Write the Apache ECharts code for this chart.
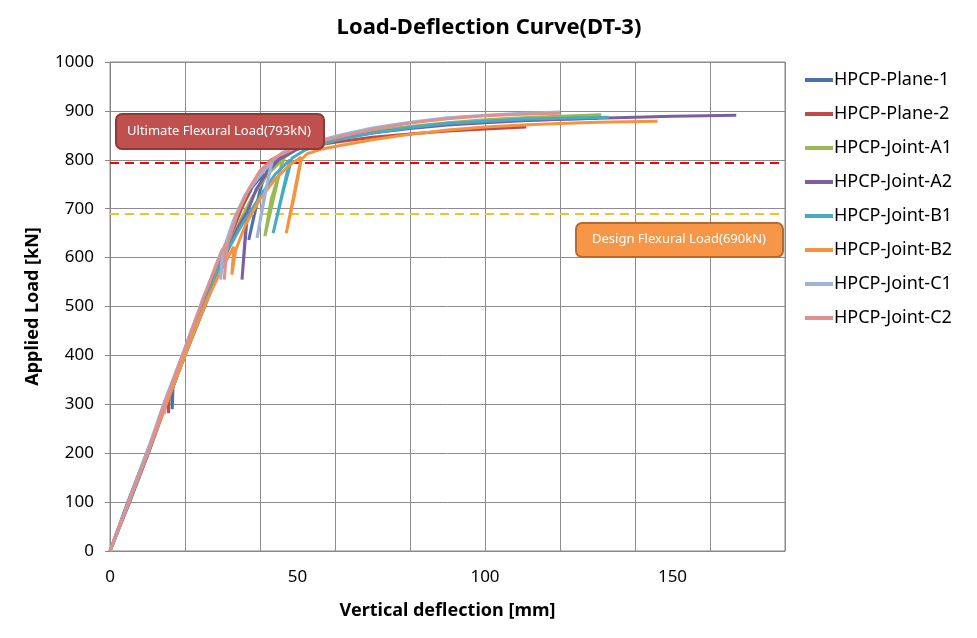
<!DOCTYPE html>
<html><head><meta charset="utf-8">
<script src="https://cdn.jsdelivr.net/npm/echarts@6/dist/echarts.min.js"></script>
<style>html,body{margin:0;padding:0;background:#fff}#c{width:977px;height:638px}</style>
</head><body><div id="c"></div>
<script>
// ---- data (deflection mm, load kN) ----
const seriesNames = ['HPCP-Plane-1','HPCP-Plane-2','HPCP-Joint-A1','HPCP-Joint-A2','HPCP-Joint-B1','HPCP-Joint-B2','HPCP-Joint-C1','HPCP-Joint-C2'];
const seriesColors = ['#4A71AC','#BE4B48','#98B954','#7D5FA0','#46AAC5','#F59440','#9DB3D8','#DE918F'];
const plane1 = [[0,0],[4,85],[8,165],[12,245],[15,305],[16.5,340],[16.6,290],[16.8,335],[20,405],[24,490],[28,570],[32,640],[35,700],[38,745],[41,772],[37,636],[38.5,690],[40.5,750],[42,780],[44,800],[47,818],[52,832],[60,845],[70,858],[80,867],[90,873],[100,878],[110,881],[120,883],[130,885]];
const plane2 = [[0,0],[5,100],[10,200],[14,285],[15.5,322],[15.6,282],[15.8,318],[20,410],[25,510],[30,605],[34,680],[37,735],[40,775],[43,800],[47,815],[52,826],[60,836],[70,846],[80,853],[90,859],[100,863],[111,867]];
const jointA1 = [[0,0],[5,98],[10,198],[14.5,295],[20,400],[25,500],[29,578],[32,628],[35,680],[38,725],[42,770],[46,800],[41.3,644],[43,720],[46.5,805],[50,822],[55,834],[60,844],[70,858],[80,868],[90,876],[100,882],[110,886],[120,889],[131,892]];
const jointA2 = [[0,0],[5,95],[10,195],[15,300],[20,400],[25,495],[30,590],[34,660],[36.5,692],[35.2,555],[36.7,695],[39,740],[42,775],[45,800],[50,822],[60,842],[70,855],[80,864],[90,871],[100,876],[110,880],[120,883],[135,886],[150,889],[167,891]];
const jointB1 = [[0,0],[5,98],[10,198],[14.5,292],[20,400],[25,500],[30,595],[35,665],[40,725],[44,770],[48,800],[43.5,650],[46,730],[48.5,803],[52,820],[60,840],[70,855],[80,866],[90,874],[100,879],[110,883],[120,885],[133,887]];
const jointB2 = [[0,0],[5,100],[10,200],[14,280],[18,360],[22,440],[26,515],[30,580],[33,622],[32.5,565],[33.5,615],[36,665],[40,720],[44,760],[48,790],[51,805],[47,650],[49,720],[51,800],[52.5,812],[56,821],[60,827],[70,841],[80,852],[90,861],[100,867],[110,871],[120,874],[130,877],[146,879]];
const jointC1 = [[0,0],[5,102],[10,205],[14.5,305],[20,415],[25,520],[29,600],[30,618],[29.5,555],[30.2,615],[33,678],[36,728],[40,768],[43,795],[39.2,640],[41,720],[43.3,798],[46,815],[50,828],[60,848],[70,865],[80,877],[90,886],[100,891],[110,895],[120,898]];
const jointC2 = [[0,0],[5,100],[10,200],[14,290],[15,312],[14.5,280],[15,310],[20,415],[25,520],[30,615],[31,630],[30.5,555],[31.2,625],[34,690],[37,740],[40,778],[44,805],[50,826],[60,845],[70,862],[80,875],[90,884],[100,890],[110,893],[120,895]];
const seriesData = [plane1, plane2, jointA1, jointA2, jointB1, jointB2, jointC1, jointC2];
const ultimateLoad = 793;
const designLoad = 690;
const xTickLabels = [0, 50, 100, 150];

const FONT = 'Noto Sans';
const chart = echarts.init(document.getElementById('c'));
const series = seriesNames.map((n, i) => ({
  name: n, type: 'line', data: seriesData[i], showSymbol: false, symbol: 'none',
  lineStyle: { width: 3, color: seriesColors[i] }, itemStyle: { color: seriesColors[i] },
  z: 3 + i
}));
series.push({
  name: 'ref', type: 'line', data: [], xAxisIndex: 0,
  markLine: {
    silent: true, symbol: 'none', label: { show: false },
    data: [
      { yAxis: ultimateLoad, lineStyle: { color: '#FF0000', type: [9, 6], width: 2 } },
      { yAxis: designLoad, lineStyle: { color: '#F2C12E', type: [9, 6], width: 2 } }
    ]
  },
  z: 20
});
chart.setOption({
  backgroundColor: '#fff',
  animation: false,
  title: { text: 'Load-Deflection Curve(DT-3)', left: 484, textAlign: 'center', top: 12,
    textStyle: { fontFamily: FONT, fontSize: 22, fontWeight: 'bold', color: '#000' } },
  legend: {
    data: seriesNames, orient: 'vertical', left: 800, top: 66, itemGap: 16,
    icon: 'rect', itemWidth: 28, itemHeight: 4,
    textStyle: { fontFamily: FONT, fontSize: 18, color: '#000', lineHeight: 18, padding: [0,0,0,-4] }
  },
  grid: { left: 110, right: 192, top: 62, bottom: 87, show: true, borderColor: '#888', borderWidth: 1 },
  xAxis: [{
    type: 'value', min: 0, max: 180, interval: 20,
    axisLine: { show: true, lineStyle: { color: '#888' } }, axisTick: { show: false },
    axisLabel: { show: false },
    splitLine: { show: true, lineStyle: { color: '#8c8c8c', width: 1 } },
    name: 'Vertical deflection [mm]', nameLocation: 'middle', nameGap: 51,
    nameTextStyle: { fontFamily: FONT, fontSize: 18, fontWeight: 'bold', color: '#000' }
  }, {
    type: 'value', min: 0, max: 180, interval: 50, position: 'bottom',
    axisLine: { show: false }, axisTick: { show: false }, splitLine: { show: false },
    axisLabel: { fontFamily: FONT, fontSize: 17, color: '#000', margin: 18,
      formatter: v => xTickLabels.indexOf(v) >= 0 ? String(v) : '' }
  }],
  yAxis: {
    type: 'value', min: 0, max: 1000, interval: 100,
    axisLine: { show: true, lineStyle: { color: '#888' } },
    axisTick: { show: true, length: 5, lineStyle: { color: '#888' } },
    axisLabel: { fontFamily: FONT, fontSize: 17, color: '#000', margin: 16, formatter: v => String(v) },
    splitLine: { show: true, lineStyle: { color: '#8c8c8c', width: 1 } },
    name: 'Applied Load [kN]', nameLocation: 'middle', nameGap: 68, nameRotate: 90,
    nameTextStyle: { fontFamily: FONT, fontSize: 18, fontWeight: 'bold', color: '#000' }
  },
  graphic: [
    { type: 'rect', left: 115, top: 113, shape: { width: 208, height: 35, r: 6 },
      style: { fill: '#C0504D', stroke: '#8C3A38', lineWidth: 2 }, z: 100 },
    { type: 'text', x: 219, y: 131, style: { text: 'Ultimate Flexural Load(793kN)', fill: '#fff',
      font: '13px "Noto Sans"', align: 'center', verticalAlign: 'middle' }, z: 101 },
    { type: 'rect', left: 575, top: 222, shape: { width: 207, height: 34, r: 6 },
      style: { fill: '#F79646', stroke: '#B86A2E', lineWidth: 2 }, z: 100 },
    { type: 'text', x: 679, y: 239, style: { text: 'Design Flexural Load(690kN)', fill: '#fff',
      font: '13px "Noto Sans"', align: 'center', verticalAlign: 'middle' }, z: 101 }
  ],
  series: series
});
</script></body></html>
